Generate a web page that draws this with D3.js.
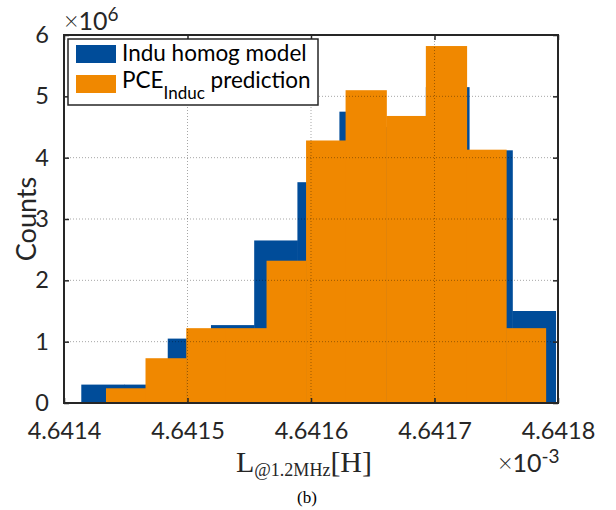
<!DOCTYPE html>
<html>
<head>
<meta charset="utf-8">
<script src="https://cdn.jsdelivr.net/npm/d3@7"></script>
<style>
  body { margin: 0; background: #fff; }
  svg { display: block; }
  .tick text { font-family: Lato, "Open Sans", sans-serif; font-size: 23.5px; fill: #262626; }
</style>
</head>
<body>
<div id="chart"></div>
<script>
// histogram bin edges (x 1e-3 H) and counts (x 1e6)
const induEdges = [4.641414, 4.641449, 4.641484, 4.641519, 4.641554, 4.641589,
    4.641623, 4.641658, 4.641693, 4.641728, 4.641763, 4.641798];
const induCounts = [0.3, 0.3, 1.05, 1.27, 2.65, 3.6, 4.75, 4.5, 5.15, 4.12, 1.5];

const pceEdges = [4.641434, 4.641466, 4.641499, 4.641531, 4.641564, 4.641596,
    4.641628, 4.641661, 4.641693, 4.641726, 4.641758, 4.641790];
const pceCounts = [0.24, 0.73, 1.22, 1.22, 2.32, 4.28, 5.1, 4.68, 5.82, 4.13, 1.22];

const xTicks = [4.6414, 4.6415, 4.6416, 4.6417, 4.6418];
const yTicks = [0, 1, 2, 3, 4, 5, 6];

const svgWidth = 616;
const svgHeight = 510;

const margin = { top: 35, right: 58, bottom: 107, left: 64 };
const chartWidth = svgWidth - margin.left - margin.right;
const chartHeight = svgHeight - margin.top - margin.bottom;

const blue = "#004c99";
const orange = "#f08800";
const ink = "#262626";

const svg = d3.select("#chart").append("svg")
    .attr("width", svgWidth)
    .attr("height", svgHeight);

const g = svg.append("g")
    .attr("transform", `translate(${margin.left}, ${margin.top})`);

const xScale = d3.scaleLinear()
    .domain([4.6414, 4.6418])
    .range([0, chartWidth]);

const yScale = d3.scaleLinear()
    .domain([0, 6])
    .range([chartHeight, 0]);

// bars
const drawHist = (edges, counts, color) => {
    g.append("g").selectAll("rect").data(counts)
        .enter().append("rect")
        .attr("x", (d, i) => xScale(edges[i]))
        .attr("width", (d, i) => xScale(edges[i + 1]) - xScale(edges[i]) + 0.5)
        .attr("y", d => yScale(d))
        .attr("height", d => chartHeight - yScale(d))
        .attr("fill", color);
};
drawHist(induEdges, induCounts, blue);
drawHist(pceEdges, pceCounts, orange);

// grid, drawn above the bars
const grid = g.append("g")
    .attr("stroke", "#000")
    .attr("stroke-opacity", 0.35)
    .attr("stroke-width", 1)
    .attr("stroke-dasharray", "1,2");
grid.selectAll(".gx").data(xTicks.slice(1, -1))
    .enter().append("line")
    .attr("x1", d => xScale(d)).attr("x2", d => xScale(d))
    .attr("y1", 0).attr("y2", chartHeight);
grid.selectAll(".gy").data(yTicks.slice(1, -1))
    .enter().append("line")
    .attr("y1", d => yScale(d)).attr("y2", d => yScale(d))
    .attr("x1", 0).attr("x2", chartWidth);

// axes with inward ticks on all four sides
const xAxis = d3.axisBottom(xScale)
    .tickValues(xTicks)
    .tickFormat(d3.format(".4f"))
    .tickSizeInner(-5).tickSizeOuter(0)
    .tickPadding(16);
const yAxis = d3.axisLeft(yScale)
    .tickValues(yTicks)
    .tickFormat(d3.format("d"))
    .tickSizeInner(-5).tickSizeOuter(0)
    .tickPadding(15);

const xAxisG = g.append("g")
    .attr("transform", `translate(0, ${chartHeight})`)
    .call(xAxis);
const yAxisG = g.append("g").call(yAxis);
const topG = g.append("g")
    .call(d3.axisTop(xScale).tickValues(xTicks).tickFormat("").tickSizeInner(-5).tickSizeOuter(0));
const rightG = g.append("g")
    .attr("transform", `translate(${chartWidth}, 0)`)
    .call(d3.axisRight(yScale).tickValues(yTicks).tickFormat("").tickSizeInner(-5).tickSizeOuter(0));

[xAxisG, yAxisG, topG, rightG].forEach(a => {
    a.select(".domain").remove();
    a.selectAll(".tick line").attr("stroke", ink).attr("stroke-width", 1.5);
});
xAxisG.selectAll(".tick text").attr("dy", "0.85em");

// box
g.append("rect")
    .attr("width", chartWidth)
    .attr("height", chartHeight)
    .attr("fill", "none")
    .attr("stroke", ink)
    .attr("stroke-width", 2);

// exponent labels
const expo = (x, y, p) => {
    const t = svg.append("text")
        .attr("x", x).attr("y", y)
        .attr("font-family", "Lato, 'Open Sans', sans-serif")
        .attr("font-size", 25)
        .attr("fill", ink);
    t.append("tspan").attr("font-weight", 300).text("\u00d7");
    t.append("tspan").text("10");
    t.append("tspan").attr("dy", -9).attr("font-size", 19).text(p);
};
expo(64, 30, "6");
expo(498, 472, "-3");

// y label
svg.append("text")
    .attr("transform", `translate(36, ${margin.top + chartHeight / 2}) rotate(-90)`)
    .attr("text-anchor", "middle")
    .attr("font-family", "Lato, 'Open Sans', sans-serif")
    .attr("font-size", 27)
    .attr("fill", ink)
    .text("Counts");

// x label
const xl = svg.append("text")
    .attr("x", 304)
    .attr("y", 472)
    .attr("text-anchor", "middle")
    .attr("font-family", "'Liberation Serif', 'DejaVu Serif', serif")
    .attr("font-size", 30)
    .attr("fill", ink);
xl.append("tspan").text("L");
xl.append("tspan").attr("dy", 4).attr("font-size", 18).text("@1.2MHz");
xl.append("tspan").attr("dy", -4).text("[H]");

// caption
svg.append("text")
    .attr("x", 307)
    .attr("y", 503)
    .attr("text-anchor", "middle")
    .attr("font-family", "'Liberation Serif', serif")
    .attr("font-size", 17)
    .attr("fill", "#000")
    .text("(b)");

// legend
const lg = svg.append("g").attr("transform", "translate(68, 39)");
lg.append("rect")
    .attr("width", 250).attr("height", 66)
    .attr("fill", "#fff")
    .attr("stroke", ink)
    .attr("stroke-width", 1.5);
const legendItems = [
    { color: blue, y: 6 },
    { color: orange, y: 36 }
];
lg.selectAll(".sw").data(legendItems)
    .enter().append("rect")
    .attr("x", 8).attr("y", d => d.y)
    .attr("width", 40).attr("height", 18)
    .attr("fill", d => d.color);
lg.append("text")
    .attr("x", 54).attr("y", 22)
    .attr("font-family", "Lato, 'Open Sans', sans-serif")
    .attr("font-size", 22.5)
    .attr("fill", "#000")
    .text("Indu homog model");
const l2 = lg.append("text")
    .attr("x", 54).attr("y", 49)
    .attr("font-family", "Lato, 'Open Sans', sans-serif")
    .attr("font-size", 22.5)
    .attr("fill", "#000");
l2.append("tspan").text("PCE");
l2.append("tspan").attr("dy", 11).attr("font-size", 17).text("Induc");
l2.append("tspan").attr("dy", -11).text(" prediction");
</script>
</body>
</html>
